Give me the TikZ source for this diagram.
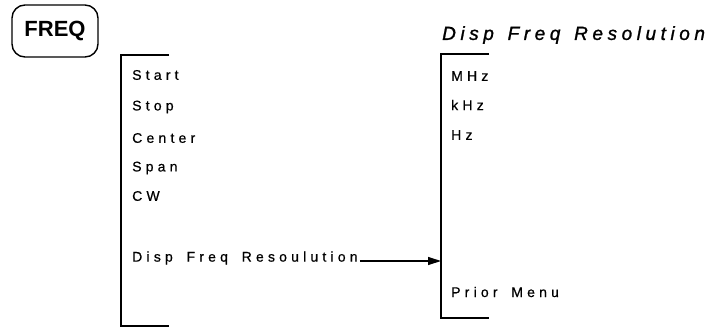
\documentclass[tikz,border=0pt]{standalone}
\usepackage{fontspec}
\setmainfont{Liberation Sans}
\newfontfamily\plotfont[LetterSpace=30,WordSpace=1.7,FakeBold=0.6]{Liberation Sans}
\newfontfamily\titlefont[LetterSpace=24,WordSpace=1.4,FakeBold=1.2]{Liberation Sans}
\usetikzlibrary{arrows.meta}
\begin{document}
\begin{tikzpicture}[x=1pt,y=-1pt,
  bracket/.style={line width=1.6pt},
  item/.style={anchor=west,inner sep=0pt,font=\plotfont\fontsize{14}{16}\selectfont},
  link/.style={line width=1.2pt,-{Stealth[length=13pt,width=8pt,inset=0pt]}}]
\useasboundingbox (0,0) rectangle (725,329);
% FREQ key
\node[draw,line width=1.4pt,rounded corners=13pt,minimum width=86pt,minimum height=52pt,inner sep=0pt,
  font=\bfseries\fontsize{22}{24}\selectfont] (freq) at (55,31) {FREQ};
% left menu bracket
\coordinate (ltop) at (169,55);
\coordinate (lbot) at (169,326);
\draw[bracket] (ltop) -- (121,55) -- (121,326) -- (lbot);
\node[item] (start) at (132,75) {Start};
\node[item] (stop) at (132,107) {Stop};
\node[item] (center) at (132,138) {Center};
\node[item] (span) at (132,168) {Span};
\node[item] (cw) at (132,196) {CW};
\node[item] (dfr) at (132,258) {Disp Freq Resoulution};
% right menu
\node[anchor=west,inner sep=0pt,font=\titlefont\itshape\fontsize{19}{22}\selectfont] (title) at (442,35) {Disp Freq Resolution};
\coordinate (rtop) at (489,54);
\coordinate (rbot) at (489,318);
\draw[bracket] (rtop) -- (441,54) -- (441,318) -- (rbot);
\coordinate (rin) at (441,261);
\node[item] (mhz) at (451,76) {MHz};
\node[item] (khz) at (451,105) {kHz};
\node[item] (hz) at (451,135) {Hz};
\node[item] (prior) at (451,292) {Prior Menu};
\draw[link] ([xshift=2pt]dfr.east |- rin) -- (rin);
\end{tikzpicture}
\end{document}
